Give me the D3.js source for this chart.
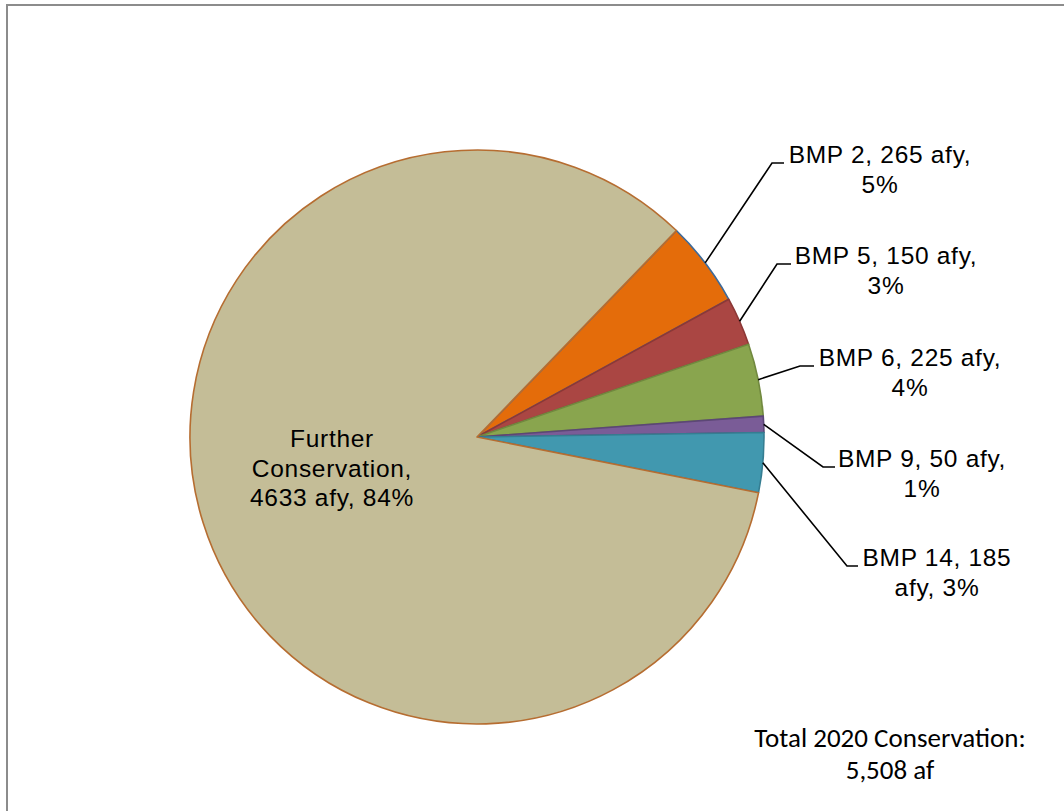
<!DOCTYPE html>
<html>
<head>
<meta charset="utf-8">
<script src="https://cdn.jsdelivr.net/npm/d3@7"></script>
<style>
  html, body { margin: 0; padding: 0; background: #fff; }
  svg { display: block; }
</style>
</head>
<body>
<svg id="chart" width="1064" height="811"></svg>
<script>
// ---- data ----
const categories = ["BMP 2", "BMP 5", "BMP 6", "BMP 9", "BMP 14", "Further Conservation"];
const values = [265, 150, 225, 50, 185, 4633];
const unit = "afy";
const totalLines = ["Total 2020 Conservation:", "5,508 af"];

// ---- styles / layout ----
const fills   = ["#E46C0A", "#AA4643", "#89A54E", "#7A5C97", "#4198AF", "#C4BD97"];
const strokes = ["#3C6A9B", "#8C3836", "#71893F", "#5C4776", "#357D91", "#B66D31"];
// words per line for each label (remaining words go on the last line)
const wordsPerLine = [[4], [4], [4], [4], [3], [1, 1]];
// label anchor (center x, first baseline) and leader elbow / end
const labelLayout = [
  { x: 880, y: 163, elbow: [772, 163], end: [784, 163] },
  { x: 886, y: 264, elbow: [777, 264], end: [791, 264] },
  { x: 910, y: 366, elbow: [800, 366], end: [814, 366] },
  { x: 922, y: 467, elbow: [823, 467], end: [835, 467] },
  { x: 937, y: 566, elbow: [847, 566], end: [858, 566] },
  { x: 332, y: 447, elbow: null, end: null }
];

const svg = d3.select("#chart");
const cx = 477, cy = 437, R = 287;
const startDeg = 44;

// frame
svg.append("rect")
  .attr("x", 7).attr("y", 5).attr("width", 1080).attr("height", 830)
  .attr("fill", "#fff").attr("stroke", "#8c8c8c").attr("stroke-width", 2);

const total = d3.sum(values);
const pie = d3.pie().sort(null).value(d => d)
  .startAngle(startDeg * Math.PI / 180)
  .endAngle(startDeg * Math.PI / 180 + 2 * Math.PI);
const arcs = pie(values);
const arc = d3.arc().innerRadius(0).outerRadius(R);
const edgeArc = d3.arc().innerRadius(R).outerRadius(R);

const g = svg.append("g").attr("transform", `translate(${cx},${cy})`);

g.selectAll("path.slice")
  .data(arcs)
  .join("path")
  .attr("class", "slice")
  .attr("d", arc)
  .attr("fill", (d, i) => fills[i])
  .attr("stroke", (d, i) => strokes[i])
  .attr("stroke-width", 1.6)
  .attr("stroke-linejoin", "round");

// label text
function labelLines(i) {
  const pct = Math.round(values[i] / total * 100);
  const words = `${categories[i]}, ${values[i]} ${unit}, ${pct}%`.split(" ");
  const lines = [];
  let k = 0;
  wordsPerLine[i].forEach(n => { lines.push(words.slice(k, k + n).join(" ")); k += n; });
  lines.push(words.slice(k).join(" "));
  return lines;
}

// leader lines
arcs.forEach((d, i) => {
  const L = labelLayout[i];
  if (!L.elbow) return;
  const c = edgeArc.centroid(d);
  const p0 = [cx + c[0], cy + c[1]];
  svg.append("path")
    .attr("d", d3.line()([p0, L.elbow, L.end]))
    .attr("fill", "none")
    .attr("stroke", "#000")
    .attr("stroke-width", 1.6);
});

const lineH = 29.5;
arcs.forEach((d, i) => {
  const L = labelLayout[i];
  const t = svg.append("text")
    .attr("text-anchor", "middle")
    .attr("font-family", "'Liberation Sans', Arial, Helvetica, sans-serif")
    .attr("font-size", 24.5)
    .attr("letter-spacing", 0.7)
    .attr("fill", "#000");
  labelLines(i).forEach((s, j) => {
    t.append("tspan").attr("x", L.x).attr("y", L.y + j * lineH).text(s);
  });
});

// total annotation
const tt = svg.append("text")
  .attr("text-anchor", "middle")
  .attr("font-family", "Carlito, Calibri, Lato, sans-serif")
  .attr("font-size", 27)
  .attr("fill", "#000");
totalLines.forEach((s, j) => {
  tt.append("tspan").attr("x", 890).attr("y", 747 + j * 32).text(s);
});
</script>
</body>
</html>
